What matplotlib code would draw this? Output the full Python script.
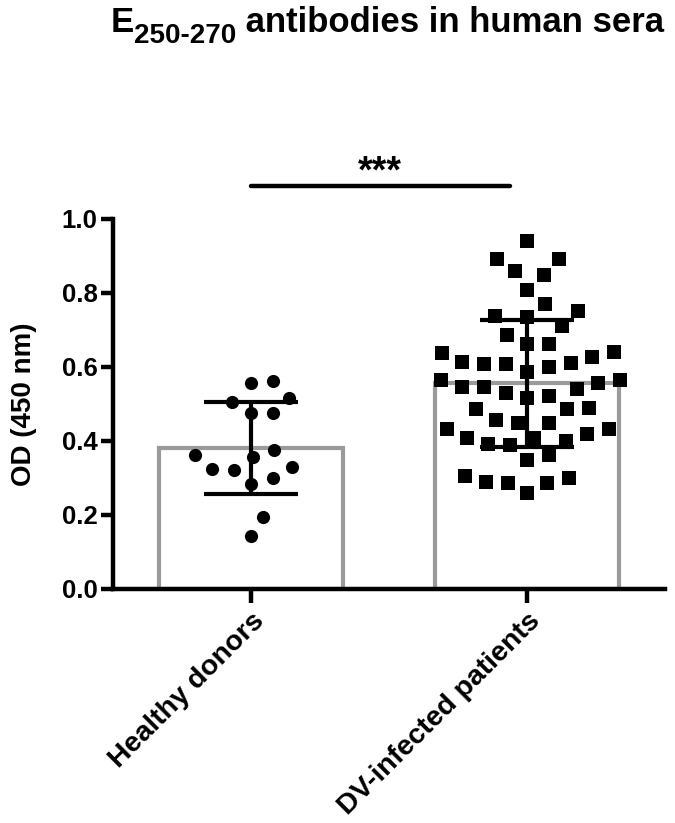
import numpy as np
import matplotlib
matplotlib.use("Agg")
import matplotlib.pyplot as plt

plt.rcParams['font.family'] = ['Liberation Sans', 'DejaVu Sans']
plt.rcParams['font.weight'] = 'bold'

# data
groups = ['Healthy donors', 'DV-infected patients']
healthy = [0.558, 0.563, 0.517, 0.506, 0.475, 0.475, 0.376, 0.356, 0.362,
           0.323, 0.301, 0.284, 0.322, 0.329, 0.194, 0.143]
dv_patients = [0.941, 0.893, 0.893, 0.849, 0.859, 0.809, 0.770, 0.751, 0.734,
               0.737, 0.686, 0.710,
               0.662, 0.637, 0.614, 0.608, 0.608, 0.612, 0.626, 0.641, 0.662,
               0.601, 0.565, 0.556, 0.545, 0.547, 0.565, 0.587, 0.531, 0.515,
               0.522, 0.540,
               0.486, 0.486, 0.490, 0.450, 0.432, 0.418, 0.432, 0.448, 0.457,
               0.407, 0.391, 0.389, 0.400, 0.407, 0.362, 0.350, 0.299, 0.287,
               0.259, 0.286, 0.288, 0.306]
bar_means = [0.381, 0.556]
bar_sds = [0.125, 0.171]
yticks = [0.0, 0.2, 0.4, 0.6, 0.8, 1.0]
sig_label = '***'

W, H = 675, 823
fig = plt.figure(figsize=(W / 100, H / 100), dpi=100)
ax = fig.add_axes([113 / W, (H - 589) / H, (665 - 113) / W, (589 - 219) / H])
ax.set_xlim(-0.5, 1.5)
ax.set_ylim(0, 1.0)

xpos = np.arange(len(groups))

# bars (white fill, grey outline)
ax.bar(xpos, bar_means, width=0.667, color='white', edgecolor='#9a9a9a',
       linewidth=3, zorder=1)


def swarm_x(values, center, min_dist):
    """Greedy beeswarm: returns x data positions so markers don't overlap."""
    pts = ax.transData.transform(np.column_stack([np.full(len(values), center), values]))
    ys = pts[:, 1]
    cx = pts[0, 0]
    cands = sorted(np.arange(-200, 200.5, 0.5), key=lambda v: (abs(v), v < 0))
    placed = []
    xs = np.zeros(len(values))
    for i in np.argsort(ys):
        for c in cands:
            ok = True
            for (px, py) in placed:
                if (px - c) ** 2 + (py - ys[i]) ** 2 < min_dist ** 2:
                    ok = False
                    break
            if ok:
                placed.append((c, ys[i]))
                xs[i] = c
                break
    back = ax.transData.inverted().transform(np.column_stack([cx + xs, ys]))
    return back[:, 0]


hx = swarm_x(healthy, xpos[0], 22)
dx = swarm_x(dv_patients, xpos[1], 22)
ax.scatter(hx, healthy, marker='o', s=90, color='black', linewidths=0, zorder=3)
ax.scatter(dx, dv_patients, marker='s', s=112, color='black', linewidths=0, zorder=3)

# mean +/- SD
ax.errorbar(xpos, bar_means, yerr=bar_sds, fmt='none', ecolor='black',
            elinewidth=3, capsize=34, capthick=3, zorder=4)

# significance bar
ax.plot([0, 0.94], [1.089, 1.089], color='black', lw=3.2,
        solid_capstyle='round', clip_on=False)
ax.text(0.467, 1.10, sig_label, ha='center', va='baseline', fontsize=27,
        fontweight='bold', clip_on=False)

# axes styling
for side in ['top', 'right']:
    ax.spines[side].set_visible(False)
for side in ['left', 'bottom']:
    ax.spines[side].set_linewidth(3.2)
ax.set_yticks(yticks)
ax.set_yticklabels([f'{v:.1f}' for v in yticks])
ax.set_xticks(xpos)
ax.set_xticklabels(groups, rotation=45, ha='right', rotation_mode='anchor')
ax.tick_params(axis='y', length=9, width=3.2, labelsize=18.5, pad=2)
ax.tick_params(axis='x', length=10, width=3.2, labelsize=20.5, pad=4)
ax.set_ylabel('OD (450 nm)', fontsize=20, fontweight='bold')
ax.yaxis.set_label_coords(-0.138, 0.5)

# title with subscript
fig.canvas.draw()
r = fig.canvas.get_renderer()
base = 1 - 31.7 / H
t1 = fig.text(111 / W, base, 'E', fontsize=25, fontweight='bold', va='baseline')
b1 = t1.get_window_extent(r)
t2 = fig.text(b1.x1 / W, 1 - 43 / H, '250-270', fontsize=20, fontweight='bold', va='baseline')
b2 = t2.get_window_extent(r)
fig.text(b2.x1 / W, base, ' antibodies in human sera', fontsize=25,
         fontweight='bold', va='baseline')

fig.savefig('out.png', dpi=100)
